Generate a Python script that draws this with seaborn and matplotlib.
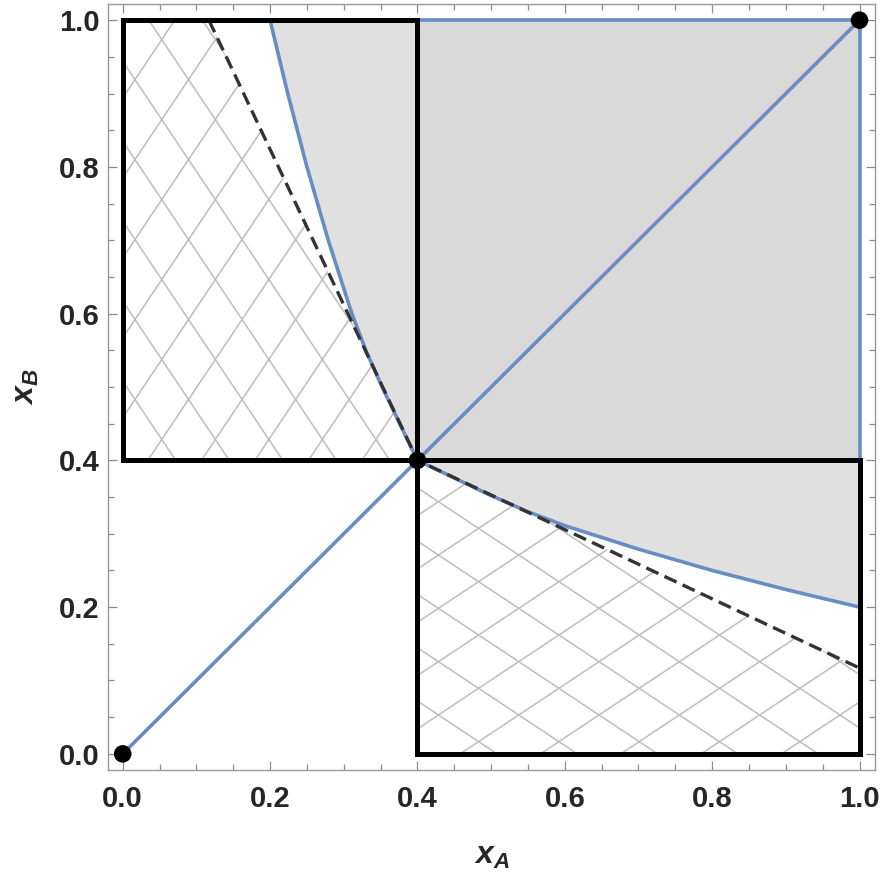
import numpy as np
import matplotlib
matplotlib.use("Agg")
import matplotlib.pyplot as plt
import seaborn as sns
from matplotlib.patches import Polygon, Rectangle

# datos
curve_x = [0.2, 0.224, 0.25, 0.279, 0.311, 0.33, 0.352, 0.376, 0.4,
           0.45, 0.5, 0.55, 0.6, 0.7, 0.8, 0.9, 1.0]
curve_y = [1.0, 0.9, 0.8, 0.7, 0.6, 0.55, 0.5, 0.45, 0.4,
           0.376, 0.352, 0.33, 0.311, 0.279, 0.25, 0.224, 0.2]
diag_x = [0.0, 1.0]
diag_y = [0.0, 1.0]
dash_x = [0.117, 0.4, 1.0]
dash_y = [1.0, 0.4, 0.117]
dots_x = [0.0, 0.4, 1.0]
dots_y = [0.0, 0.4, 1.0]
box_ul = [0.0, 0.4, 0.4, 0.6]   # x, y, ancho, alto
box_lr = [0.4, 0.0, 0.6, 0.4]
ticks = [0.0, 0.2, 0.4, 0.6, 0.8, 1.0]
tick_labels = ["0.0", "0.2", "0.4", "0.6", "0.8", "1.0"]

sns.set_style("ticks")
plt.rcParams['font.family'] = ['Liberation Sans', 'DejaVu Sans']
plt.rcParams['mathtext.fontset'] = 'custom'
plt.rcParams['mathtext.it'] = 'Liberation Sans:italic:bold'
plt.rcParams['mathtext.rm'] = 'Liberation Sans:bold'

blue = "#6a8cc4"
fig = plt.figure(figsize=(8.85, 8.75), dpi=100)
ax = fig.add_axes([0.122, 0.12, 0.8667, 0.8754])

# region gris
reg = list(zip(curve_x, curve_y)) + [(1.0, 1.0)]
ax.add_patch(Polygon(reg, closed=True, facecolor="#e0e0e0", edgecolor="none", zorder=1))
ax.add_patch(Rectangle((0.4, 0.4), 0.6, 0.6, facecolor="#d9d9d9", edgecolor="none", zorder=1.1))

# rayado cruzado
hatch_ul = Polygon([(0, 0.4), (dash_x[1], dash_y[1]), (dash_x[0], dash_y[0]), (0, 1)],
                   closed=True, facecolor="none", edgecolor="none")
hatch_lr = Polygon([(0.4, 0.4), (0.4, 0), (1, 0), (dash_x[2], dash_y[2])],
                   closed=True, facecolor="none", edgecolor="none")
ax.add_patch(hatch_ul)
ax.add_patch(hatch_lr)
step = 0.109
t = np.array([-0.2, 1.2])
for k in range(-20, 30):
    for s, c0 in [(1.5, 0.022), (-1.5, 0.072)]:
        c = c0 + k * step
        l1, = ax.plot(t, s * t + c, color="#bdbdbd", lw=1.1, zorder=2)
        l1.set_clip_path(hatch_ul)
        l2, = ax.plot(s * t + c, t, color="#bdbdbd", lw=1.1, zorder=2)
        l2.set_clip_path(hatch_lr)

# curvas azules
sns.lineplot(x=curve_x, y=curve_y, sort=False, estimator=None, color=blue, lw=2.6, ax=ax, zorder=3)
sns.lineplot(x=[1.0, 1.0, 0.2], y=[0.2, 1.0, 1.0], sort=False, estimator=None, color=blue, lw=2.6, ax=ax, zorder=3)
sns.lineplot(x=diag_x, y=diag_y, color=blue, lw=2.6, ax=ax, zorder=3)

# linea discontinua
ax.plot(dash_x, dash_y, color="#333333", lw=2.4, dashes=(4, 2), zorder=4)

# cajas negras
for b in (box_ul, box_lr):
    ax.add_patch(Rectangle((b[0], b[1]), b[2], b[3], fill=False, edgecolor="black", lw=3.6, zorder=5))

sns.scatterplot(x=dots_x, y=dots_y, color="black", s=160, edgecolor="none", ax=ax, zorder=6, clip_on=False)

ax.set_xlim(-0.02, 1.021)
ax.set_ylim(-0.022, 1.022)
ax.set_xticks(ticks)
ax.set_yticks(ticks)
ax.set_xticklabels(tick_labels, fontsize=21, fontweight="bold")
ax.set_yticklabels(tick_labels, fontsize=21, fontweight="bold")
ax.set_xticks(np.arange(0, 1.01, 0.05), minor=True)
ax.set_yticks(np.arange(0, 1.01, 0.05), minor=True)
ax.tick_params(which="both", direction="in", top=True, right=True, color="#8c8c8c", width=0.9)
ax.tick_params(which="major", length=6.5)
ax.tick_params(which="minor", length=4)
ax.tick_params(axis="x", which="major", pad=11)
ax.tick_params(axis="y", which="major", pad=6)
for sp in ax.spines.values():
    sp.set_color("#999999")
    sp.set_linewidth(1.0)

ax.set_xlabel(r"$x_A$", fontsize=23, labelpad=20)
ax.set_ylabel(r"$x_B$", fontsize=23, labelpad=13)

plt.savefig("out.png", dpi=100)
